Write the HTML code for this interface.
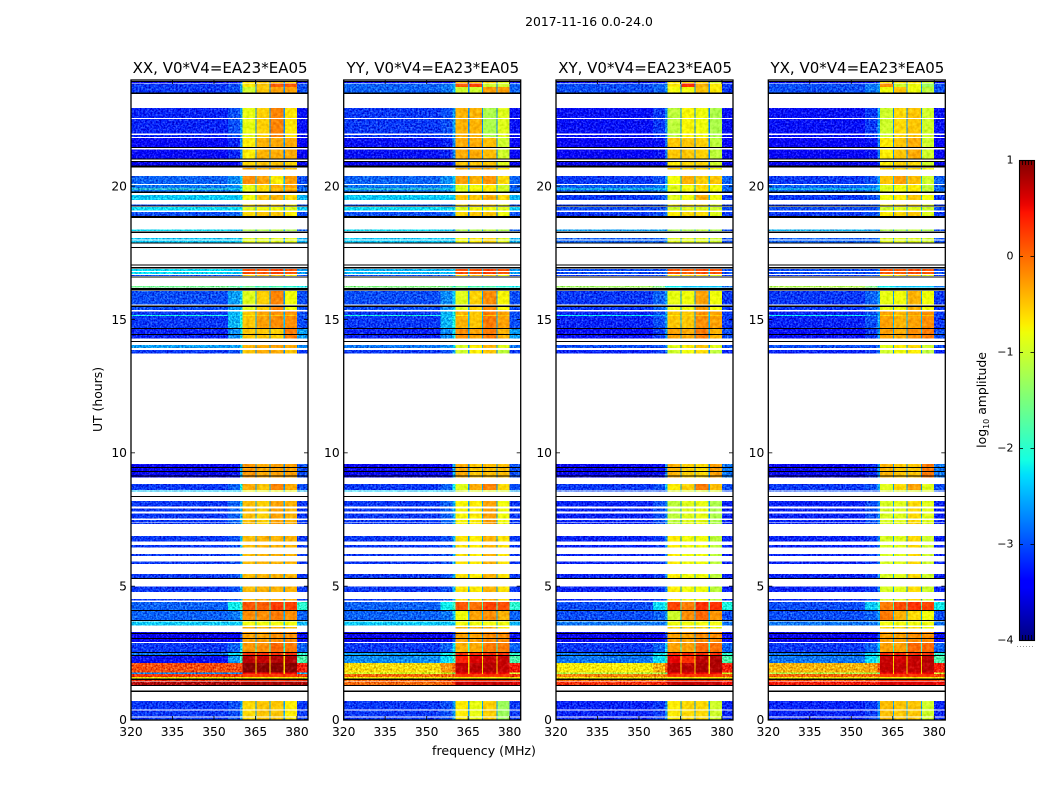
<!DOCTYPE html>
<html lang="en">
<head>
<meta charset="utf-8">
<title>2017-11-16 0.0-24.0</title>
<style>
html,body{margin:0;padding:0;background:#fff;width:1050px;height:800px;overflow:hidden}
svg{display:block}
text{font-family:"DejaVu Sans","Liberation Sans",sans-serif;fill:#000}
</style>
</head>
<body>
<svg id="figure" xmlns="http://www.w3.org/2000/svg" width="1050" height="800" viewBox="0 0 1050 800">
  <defs>
    <linearGradient id="jet-gradient" x1="0" y1="1" x2="0" y2="0"></linearGradient>
    <filter id="grain" x="0" y="0" width="100%" height="100%" color-interpolation-filters="sRGB">
      <feTurbulence type="fractalNoise" baseFrequency="0.55" numOctaves="2" seed="7" result="noise"/>
      <feColorMatrix in="noise" type="matrix" values="0 1 0 0 0  0 1 0 0 0  0 1 0 0 0  0 0 0 0 1" result="mono"/>
      <feComposite in="SourceGraphic" in2="mono" operator="arithmetic" k1="0" k2="1" k3="0.9" k4="-0.45" result="speckled"/>
      <feComposite in="speckled" in2="SourceAlpha" operator="in"/>
    </filter>
    <filter id="grain-soft" x="0" y="0" width="100%" height="100%" color-interpolation-filters="sRGB">
      <feTurbulence type="fractalNoise" baseFrequency="0.3" numOctaves="2" seed="11" result="noise"/>
      <feColorMatrix in="noise" type="matrix" values="0 1 0 0 0  0 1 0 0 0  0 1 0 0 0  0 0 0 0 1" result="mono"/>
      <feComposite in="SourceGraphic" in2="mono" operator="arithmetic" k1="0" k2="1" k3="0.3" k4="-0.15" result="speckled"/>
      <feComposite in="speckled" in2="SourceAlpha" operator="in"/>
    </filter>
  </defs>
  <text x="589" y="26" font-size="12.4" text-anchor="middle">2017-11-16 0.0-24.0</text>
  <text transform="translate(102,399.5) rotate(-90)" font-size="12.4" text-anchor="middle">UT (hours)</text>
  <text x="484" y="755" font-size="12.6" text-anchor="middle">frequency (MHz)</text>
  <g id="panels"></g>
  <g id="colorbar">
    <rect x="1019" y="160" width="15.5" height="480" fill="url(#jet-gradient)"/>
    <rect x="1019.5" y="160.5" width="15" height="480" fill="none" stroke="#000" stroke-width="1.1"/>
    <line x1="1017" x2="1035" y1="646.5" y2="646.5" stroke="#999" stroke-width="1" stroke-dasharray="1 2"/>
    <text transform="translate(986,400) rotate(-90)" font-size="12.4" text-anchor="middle">log<tspan font-size="8" dy="3">10</tspan><tspan dy="-3"> amplitude</tspan></text>
  </g>
</svg>
<script>
// Panel titles
const panelTitles = ["XX, V0*V4=EA23*EA05", "YY, V0*V4=EA23*EA05", "XY, V0*V4=EA23*EA05", "YX, V0*V4=EA23*EA05"];
// Axis ticks
const freqTicks = [320, 335, 350, 365, 380];
const utTicks = [0, 5, 10, 15, 20];
const colorTicks = [1, 0, -1, -2, -3, -4];
// Frequency bin edges in MHz: low, mid, transition, s1, notch, s2, notch, s3, notch, s4, edge
const freqEdges = [320, 355, 359.4, 360.4, 365, 365.4, 370, 370.4, 375.2, 375.6, 380, 384];
// Integration blocks: start UT, end UT, and index into the level tables
const rowEnd = [23.944,23.869,23.738,22.95,22.538,21.938,21.825,21.394,20.963,20.925,20.7,20.4,20.063,19.931,19.688,19.331,19.238,19.05,18.394,18.075,17.981,16.913,16.8,16.688,16.275,16.088,15.488,15.311,15.188,14.663,14.438,14.063,13.875,9.6,9.131,8.85,8.599,8.213,7.931,7.744,7.5,7.388,6.9,6.563,6.225,5.936,5.475,4.999,4.538,4.425,4.088,3.694,3.649,3.488,3.3,2.888,2.513,2.4,2.138,1.781,1.725,1.613,1.5,1.451,0.713,0.356,0.086];
const rowStart = [23.888,23.738,23.531,22.575,21.994,21.87,21.488,21.056,20.794,20.794,20.651,20.1,19.811,19.894,19.5,19.275,19.106,18.9,18.338,18.019,17.906,16.838,16.725,16.65,16.219,15.581,15.375,14.7,15.15,14.475,14.306,13.95,13.744,9.131,9.086,8.625,8.561,7.999,7.811,7.556,7.399,7.35,6.686,6.461,6.15,5.85,5.325,4.8,4.489,4.125,3.75,3.656,3.551,3.431,2.925,2.55,2.438,2.138,1.781,1.725,1.613,1.556,1.463,1.313,0.401,0.124,0];
const rowLevel = [4,0,1,2,2,2,3,3,4,4,5,6,7,8,9,11,10,11,12,13,13,14,14,11,15,16,16,17,18,19,19,20,21,22,22,23,24,25,25,25,25,25,26,26,26,26,26,26,26,27,28,29,29,5,30,31,32,33,34,35,36,37,36,38,39,39,39];
// Fully flagged (black) integrations
const flaggedStart = [23.925,23.475,21.45,21.011,20.925,20.726,19.763,19.256,18.825,18.263,17.861,17.7,17.04,16.939,16.594,16.106,15.495,14.663,14.438,14.175,9.45,9.3,9.139,8.363,5.288,4.088,3.713,3.225,3.038,2.513,2.4,1.5,1.275,1.05];
const flaggedEnd = [23.963,23.531,21.488,21.056,20.963,20.786,19.811,19.294,18.9,18.319,17.906,17.745,17.089,16.988,16.631,16.2,15.536,14.7,14.475,14.213,9.488,9.338,9.176,8.408,5.325,4.125,3.75,3.263,3.075,2.55,2.438,1.556,1.313,1.099];
// Notch level per level-set
const notchLevels = [-2.7,-2.7,-2.7,-2.7,-2.8,-2.6,-2.5,-2.5,-2.5,-2.5,-2.5,-2.8,-2.6,-2.6,-2.4,-2.3,-2.6,-2.5,-2.5,-2.6,-2.6,-2.7,-2.7,-2.6,-2.4,-2.6,-2.6,-1.8,-2.5,-2.4,-2.6,-2,-1,-0.6,-0.6,-0.6,0.25,-0.7,0.6,-2.6];
// log10 amplitude per level-set: low, mid, transition, s1, s2, s3, s4, edge
const levelsXX = [
[-3.1,-3,-2.6,-.7,-.5,.05,.05,-3],[-3.1,-3,-2.6,-1,-.5,-.3,-.3,-3],[-3.2,-3,-2.6,-.85,-.55,-.15,-.65,-3.3],[-3.35,-3.2,-2.7,-.7,-.4,-.35,-.35,-3.4],
[-3.5,-3.4,-3,-.6,-.5,-.5,-.6,-3.5],[null,null,null,-.4,-.4,-.4,-.5,null],[-2.9,-2.7,-2.4,-.2,-.3,-.7,-.3,-3],[-2.8,-2.7,-2.4,-.85,-.6,-.35,-.3,-2.9],
[-1.9,-2.1,-2.2,-.85,-.6,-.6,-.6,-2.8],[-2.4,-2.4,-2.4,-.8,-.5,-.4,-.6,-2.5],[-2.3,-2.3,-2.3,-.9,-.8,-.8,-.9,-2.4],[-3,-2.9,-2.7,-.6,-.5,-.5,-.7,-3],
[-2.3,-2.4,-2.6,-1.2,-1.2,-1.1,-1.2,-2.9],[-2.4,-2.4,-2.4,-.9,-.9,-.9,-.9,-2.5],[-2.3,-2.4,-2.4,.15,.1,.2,.1,-2.6],[-1.6,-1.7,-2,-1.6,-1.8,-1.8,-2,-2.2],
[-3,-2.6,-2.4,-.9,-.55,-.15,-.8,-3],[-3.1,-2.5,-2.1,-.5,-.3,-.2,-.2,-3],[-2.1,-2.4,-2.4,-.7,-.5,-.5,-.5,-3],[-3.2,-2.7,-2.3,-.5,-.5,-.55,-.1,-2.6],
[-2.6,-2.6,-2.3,-.4,-.35,-.3,-.35,-2.7],[-3.1,-3,-2.6,-.5,-.35,-.35,-.5,-3.1],[-3.5,-3.3,-2.5,-.25,-.35,-.3,-.3,-3],[-3.1,-2.9,-2.2,-.35,-.5,-.15,-.35,-3],
[-2.4,-2.4,-2.4,-.8,-.8,-.8,-.8,-2.5],[-3.1,-2.9,-2.5,-.45,-.55,-.3,-.4,-3.1],[-3.1,-3,-2.5,-.45,-.4,-.4,-.4,-3.1],[-2.9,-2.2,-1.9,.1,.05,.25,.2,-2],
[-2.9,-2.8,-2.4,-.2,-.2,-.1,-.2,-2.9],[-2.4,-2.4,-2.4,-.8,-.8,-.8,-.8,-2.5],[-3.5,-3.4,-3,-.3,-.3,-.2,-.2,-3.3],[-3.1,-2.9,-2.3,-.25,-.2,0,-.1,-2.9],
[-2.8,-2.3,-1.9,.3,.3,.3,.3,-2],[-3.3,-2.6,-1.9,.75,.7,.8,.8,-1.8],[.15,.15,.2,.95,.95,.95,.95,.4],[-2.7,-2.7,-2.7,.5,.5,.5,.5,-2.5],
[.25,.25,.25,.25,.25,.25,.25,.25],[-.7,-.7,-.7,-.7,-.7,-.7,-.7,-.7],[.8,.8,.8,.85,.85,.85,.85,.8],[-3.1,-3,-2.6,-.6,-.5,-.5,-.7,-3.1]];
const levelsYY = [
[-2.9,-2.8,-2.5,.1,.2,-1,-1,-2.9],[-2.9,-2.8,-2.5,-1,-1,-.3,-.3,-2.9],[-3.1,-3,-2.6,-.4,-.4,-1.2,-.9,-3.3],[-3.3,-3.2,-2.7,-.35,-.35,-.45,-1,-3.4],
[-3.5,-3.4,-3,-.5,-.5,-.5,-.9,-3.5],[null,null,null,-.4,-.4,-.4,-.7,null],[-2.9,-2.7,-2.4,-.3,-.4,-.25,-.6,-2.9],[-2.8,-2.7,-2.4,-.9,-.8,-.7,-1,-2.9],
[-1.9,-2.1,-2.2,-.9,-.7,-.7,-.9,-2.8],[-2.4,-2.4,-2.4,-.5,-.5,-.4,-.6,-2.5],[-2.3,-2.3,-2.3,-.9,-.8,-.8,-.9,-2.4],[-3,-2.9,-2.7,-.6,-.5,-.5,-.8,-3],
[-2.3,-2.4,-2.6,-1.2,-1.2,-1.1,-1.2,-2.9],[-2.4,-2.4,-2.4,-.8,-.7,-.6,-.9,-2.5],[-2.5,-2.5,-2.4,.15,.1,.2,.1,-2.6],[-1.5,-1.6,-2,-1.6,-1.8,-1.8,-2,-2.2],
[-3,-2.7,-2.4,-.9,-.55,-.2,-.75,-3],[-3.1,-2.5,-2.1,-.4,-.5,-.1,-.3,-3],[-2.1,-2.4,-2.4,-.7,-.5,-.5,-.5,-3],[-3.2,-2.7,-2.3,-.2,-.3,-.1,-.4,-2.6],
[-2.8,-2.7,-2.3,-.95,-.7,-.4,-.9,-2.8],[-3.1,-3,-2.6,-1,-.7,-.5,-1.1,-3.1],[-3.5,-3.3,-2.5,-.35,-.5,-.45,-.45,-3],[-3.1,-2.9,-2.2,-.9,-.35,-.15,-.6,-3],
[-2.4,-2.4,-2.4,-.9,-.9,-.9,-.9,-2.5],[-3.1,-2.9,-2.5,-.75,-.7,-.3,-.8,-3.1],[-3.1,-3,-2.5,-.65,-.7,-.4,-.65,-3.1],[-2.9,-2.2,-1.9,.1,-.05,.2,.15,-2],
[-2.9,-2.8,-2.4,-.8,-.3,-.2,-.4,-2.9],[-2.4,-2.4,-2.4,-.8,-.8,-.8,-.8,-2.5],[-3.5,-3.4,-3,-.3,-.3,-.2,-.2,-3.3],[-3.1,-2.9,-2.3,-.4,-.35,-.1,-.1,-2.9],
[-2.6,-2.2,-1.9,.3,.3,.3,.3,-2],[-2.7,-2.3,-1.9,.4,.6,.7,.7,-1.8],[-.6,-.25,0,.7,.75,.75,.7,.4],[-1,-1,-1.4,.5,.5,.5,.5,-1],
[0,.05,.1,.25,.25,.25,.25,.25],[-.7,-.7,-.7,-.7,-.7,-.7,-.7,-.7],[0,.1,.3,.7,.7,.7,.7,.6],[-3.1,-3,-2.6,-.7,-.85,-.55,-1.3,-3.1]];
const levelsXY = [
[-3,-2.9,-2.7,-.7,.3,-.4,-.7,-3.1],[-3,-2.9,-2.7,-.8,-.8,-.5,-.7,-3.1],[-3.3,-3.1,-2.7,-1.1,-.75,-.8,-1.2,-3.3],[-3.4,-3.3,-2.8,-.5,-.5,-.55,-1.1,-3.4],
[-3.5,-3.4,-3,-.7,-.6,-.6,-1,-3.5],[null,null,null,-.6,-.6,-.6,-.8,null],[-3.1,-3,-2.6,-.8,-.4,-.55,-.5,-2.9],[-2.9,-2.8,-2.5,-.9,-.8,-.6,-.8,-2.9],
[-2.1,-2.2,-2.3,-.9,-.7,-.7,-.8,-2.8],[-3.1,-3,-2.8,-.9,-.8,-.4,-.8,-3.1],[-3,-3,-2.8,-1,-.9,-.9,-1,-3],[-3.1,-3,-2.8,-.7,-.6,-.6,-.9,-3.1],
[-2.6,-2.6,-2.7,-1.2,-1.2,-1.1,-1.2,-3],[-2.9,-2.9,-2.7,-.9,-.9,-.9,-1,-3],[-3,-3,-2.8,.1,.05,.15,.1,-3],[-1.3,-1.5,-2.2,-2.2,-2.4,-2.4,-2.4,-2.8],
[-3.1,-2.9,-2.6,-.85,-.8,-.3,-.8,-3.1],[-3.2,-3,-2.6,-.5,-.5,-.2,-.3,-3.1],[-2.2,-2.5,-2.5,-.7,-.6,-.5,-.5,-3],[-3.3,-3.1,-2.6,-.3,-.35,-.1,-.4,-3],
[-3,-3,-2.7,-.9,-.7,-.5,-.9,-3],[-3.2,-3.1,-2.8,-1,-.8,-.6,-1.1,-3.2],[-3.5,-3.3,-2.7,-.4,-.55,-.6,-.3,-2.8],[-3.1,-3,-2.5,-.7,-.55,-.1,-.45,-3],
[-3,-3,-2.8,-.9,-.9,-.9,-.9,-3],[-3.2,-3,-2.7,-1.1,-.9,-.85,-1.2,-3.2],[-3.2,-3.1,-2.7,-.7,-.8,-.8,-1.1,-3.2],[-3,-2.3,-2,.2,-.1,.3,.3,-2.1],
[-3,-2.9,-2.6,-1,-.2,0,-.25,-3],[-2.8,-2.8,-2.6,-.8,-.8,-.8,-.8,-2.8],[-3.5,-3.4,-3,-.3,-.3,-.2,-.2,-3.3],[-3.1,-2.9,-2.4,-.3,-.3,0,-.05,-2.9],
[-2.8,-2.3,-2,.3,.3,.3,.3,-2],[-2.8,-2.3,-1.9,.55,.3,.75,.8,-1.8],[-.7,-.4,.1,.75,.75,.8,.8,.4],[-1.2,-1.2,-1.6,.5,.5,.5,.5,-1],
[-.15,-.1,0,.25,.25,.25,.25,.1],[-.7,-.7,-.7,-.7,-.7,-.7,-.7,-.7],[.3,.35,.4,.7,.7,.7,.7,.5],[-3.2,-3.1,-2.7,-.7,-.6,-.6,-1,-3.2]];
const levelsYX = [
[-3,-2.8,-2.6,-.2,-1,-.8,-1.3,-3],[-3,-2.8,-2.6,-.8,-.5,-.8,-1.1,-3],[-3.3,-3.1,-2.6,-1,-.6,-.5,-1,-3.3],[-3.4,-3.3,-2.8,-.7,-.5,-.35,-1,-3.4],
[-3.5,-3.4,-3,-.7,-.6,-.6,-1,-3.5],[null,null,null,-.6,-.6,-.6,-.8,null],[-3.1,-3,-2.6,-.5,-.3,-.45,-1,-2.9],[-2.9,-2.8,-2.5,-.9,-.8,-.7,-1.1,-2.9],
[-2.1,-2.2,-2.3,-.9,-.8,-.7,-1,-2.8],[-3.1,-3,-2.8,-.8,-.7,-.5,-.8,-3.1],[-3,-3,-2.8,-1,-.9,-.9,-1,-3],[-3.1,-3,-2.8,-.7,-.6,-.5,-.9,-3.1],
[-2.5,-2.6,-2.7,-1.2,-1.2,-1.1,-1.2,-3],[-2.9,-2.9,-2.7,-.9,-.9,-.9,-1,-3],[-3,-3,-2.8,.1,.05,.15,.1,-3],[-1.2,-1.5,-2.2,-2.2,-2.4,-2.4,-2.4,-2.8],
[-3.1,-2.9,-2.6,-.85,-.8,-.4,-.8,-3.1],[-3.2,-3,-2.6,-.3,-.4,-.3,-.2,-3.1],[-2.2,-2.5,-2.5,-.6,-.6,-.5,-.5,-3],[-3.3,-3.1,-2.6,-.3,-.35,-.2,-.1,-3],
[-3,-3,-2.7,-.9,-.7,-.6,-1,-3],[-3.2,-3.1,-2.8,-1,-.8,-.7,-1.1,-3.2],[-3.5,-3.2,-2.6,-.4,-.5,-.5,-.1,-2.8],[-3.1,-3,-2.5,-.9,-.6,-.3,-.9,-3],
[-3,-3,-2.8,-.9,-.9,-.9,-.9,-3],[-3.2,-3,-2.7,-.95,-.9,-.6,-.9,-3.2],[-3.2,-3.1,-2.7,-.95,-.9,-.6,-1,-3.2],[-3,-2.4,-2,-.1,.15,.3,.2,-2.2],
[-3,-2.9,-2.6,-.1,-.4,-.6,-.8,-3],[-2.8,-2.8,-2.6,-.8,-.8,-.8,-.8,-2.8],[-3.5,-3.4,-3,-.3,-.3,-.2,-.2,-3.3],[-3.1,-2.9,-2.4,-.3,-.3,0,0,-2.9],
[-2.8,-2.3,-2,.3,.3,.3,.3,-2],[-2.8,-2.3,-1.9,.7,.65,.7,.75,-1.8],[-.4,-.3,.1,.7,.7,.7,.75,.4],[-1.2,-1.2,-1.6,.5,.5,.5,.5,-1],
[0,.05,.1,.25,.25,.25,.25,.2],[-.7,-.7,-.7,-.7,-.7,-.7,-.7,-.7],[.4,.4,.45,.6,.6,.6,.6,.5],[-3.2,-3.1,-2.7,-.45,-.5,-.5,-1,-3.2]];
const panelLevels = [levelsXX, levelsYY, levelsXY, levelsYX];

const SVG_NS = "http://www.w3.org/2000/svg";
const AXES_TOP = 80, AXES_HEIGHT = 640, AXES_WIDTH = 177;
const AXES_LEFTS = [131, 343.7, 556, 768.3];
const FREQ_MIN = 320, FREQ_MAX = 384, UT_MAX = 24, COLOR_MIN = -4, COLOR_MAX = 1;
const CB_TOP = 160, CB_HEIGHT = 480;
function xScale(mhz, left) { return left + (mhz - FREQ_MIN) / (FREQ_MAX - FREQ_MIN) * AXES_WIDTH; }
function yScale(ut) { return AXES_TOP + (UT_MAX - ut) / UT_MAX * AXES_HEIGHT; }
function cbScale(v) { return CB_TOP + (COLOR_MAX - v) / (COLOR_MAX - COLOR_MIN) * CB_HEIGHT; }
function ramp(knots, t) {
  for (let i = 1; i < knots.length; i++) {
    if (t <= knots[i][0]) {
      const a = knots[i - 1], b = knots[i];
      return a[1] + (b[1] - a[1]) * (t - a[0]) / (b[0] - a[0]);
    }
  }
  return knots[knots.length - 1][1];
}
const jetRed = [[0,0],[.35,0],[.66,1],[.89,1],[1,.5]];
const jetGreen = [[0,0],[.125,0],[.375,1],[.64,1],[.91,0],[1,0]];
const jetBlue = [[0,.5],[.11,1],[.34,1],[.65,0],[1,0]];
function jetAt(t) {
  t = Math.max(0, Math.min(1, t));
  return "rgb(" + Math.round(ramp(jetRed, t) * 255) + "," + Math.round(ramp(jetGreen, t) * 255) + "," + Math.round(ramp(jetBlue, t) * 255) + ")";
}
function jet(v) { return jetAt((v - COLOR_MIN) / (COLOR_MAX - COLOR_MIN)); }

function makeRect(parent, x, y, w, h, fill) {
  const r = document.createElementNS(SVG_NS, "rect");
  r.setAttribute("x", x.toFixed(2));
  r.setAttribute("y", y.toFixed(2));
  r.setAttribute("width", w.toFixed(2));
  r.setAttribute("height", h.toFixed(2));
  r.setAttribute("fill", fill);
  parent.appendChild(r);
  return r;
}
function makeLine(parent, x1, y1, x2, y2, width) {
  const l = document.createElementNS(SVG_NS, "line");
  l.setAttribute("x1", x1);
  l.setAttribute("y1", y1);
  l.setAttribute("x2", x2);
  l.setAttribute("y2", y2);
  l.setAttribute("stroke", "#000");
  l.setAttribute("stroke-width", width);
  parent.appendChild(l);
  return l;
}
function makeText(parent, x, y, size, anchor, content) {
  const t = document.createElementNS(SVG_NS, "text");
  t.setAttribute("x", x);
  t.setAttribute("y", y);
  t.setAttribute("font-size", size);
  t.setAttribute("text-anchor", anchor);
  t.textContent = content;
  parent.appendChild(t);
  return t;
}
// Map an 8-value level entry and its notch to the 11 frequency bins
function binValues(lv, notch) {
  return [lv[0], lv[1], lv[2], lv[3], notch, lv[4], notch, lv[5], notch, lv[6], lv[7]];
}

const panelsGroup = document.getElementById("panels");
panelTitles.forEach(function (title, p) {
  const left = AXES_LEFTS[p];
  const right = left + AXES_WIDTH;
  const g = document.createElementNS(SVG_NS, "g");
  
  
  panelsGroup.appendChild(g);

  const cellsQuiet = document.createElementNS(SVG_NS, "g");
  cellsQuiet.setAttribute("shape-rendering", "crispEdges");
  cellsQuiet.setAttribute("filter", "url(#grain)");
  
  
  g.appendChild(cellsQuiet);

  const cellsBand = document.createElementNS(SVG_NS, "g");
  cellsBand.setAttribute("shape-rendering", "crispEdges");
  cellsBand.setAttribute("filter", "url(#grain-soft)");
  
  
  g.appendChild(cellsBand);

  rowStart.forEach(function (start, r) {
    const lv = panelLevels[p][rowLevel[r]];
    const vals = binValues(lv, notchLevels[rowLevel[r]]);
    const yTop = yScale(rowEnd[r]);
    const h = yScale(start) - yTop;
    vals.forEach(function (v, b) {
      if (v === null) return;
      const x0 = xScale(freqEdges[b], left);
      const x1 = xScale(freqEdges[b + 1], left);
      const holder = (b < 3 || b === 10) ? cellsQuiet : cellsBand;
      const cell = makeRect(holder, x0, yTop, x1 - x0, h, jet(v));
      
      
    });
  });

  const flagged = document.createElementNS(SVG_NS, "g");
  flagged.setAttribute("shape-rendering", "crispEdges");
  
  
  g.appendChild(flagged);
  flaggedStart.forEach(function (start, r) {
    const yTop = yScale(flaggedEnd[r]);
    const band = makeRect(flagged, left, yTop, AXES_WIDTH, yScale(start) - yTop, "#000");
    
    
  });

  const frame = makeRect(g, left, AXES_TOP, AXES_WIDTH, AXES_HEIGHT, "none");
  frame.setAttribute("stroke", "#000");
  frame.setAttribute("stroke-width", "1.3");
  
  

  const pt = makeText(g, left + AXES_WIDTH / 2 + 0.6, 73, 15, "middle", title);
  
  

  freqTicks.forEach(function (f) {
    const x = xScale(f, left);
    const t1 = makeLine(g, x, AXES_TOP, x, AXES_TOP + 4, 0.8);
    
    
    const t2 = makeLine(g, x, AXES_TOP + AXES_HEIGHT, x, AXES_TOP + AXES_HEIGHT - 4, 0.8);
    
    
    const lab = makeText(g, x, 736, 12.3, "middle", String(f));
    
    
  });
  utTicks.forEach(function (u) {
    const y = yScale(u) - 0.5;
    const t1 = makeLine(g, left, y, left + 4, y, 0.8);
    
    
    const t2 = makeLine(g, right, y, right - 4, y, 0.8);
    
    
    const lab = makeText(g, left - 4, y + 4.3, 12.3, "end", String(u));
    
    
  });
});

// Colour bar gradient and ticks
const gradient = document.getElementById("jet-gradient");
for (let i = 0; i <= 64; i++) {
  const stop = document.createElementNS(SVG_NS, "stop");
  stop.setAttribute("offset", (i / 64).toFixed(4));
  stop.setAttribute("stop-color", jetAt(i / 64));
  gradient.appendChild(stop);
}
const cb = document.getElementById("colorbar");
colorTicks.forEach(function (v) {
  const y = cbScale(v) + 0.5;
  if (v !== 1 && v !== -4) {
    const a = makeLine(cb, 1019, y, 1023, y, 0.8);
    
    
    const b = makeLine(cb, 1034.5, y, 1030.5, y, 0.8);
    
    
  }
  const label = v < 0 ? "\u2212" + Math.abs(v) : String(v);
  const t = makeText(cb, 1013.5, y + 3, 11, "end", label);
  
  
});
[0.2, 0.4, 0.6, 0.8].forEach(function (fraction) {
  const x = 1019.5 + 15 * fraction;
  const a = makeLine(cb, x, CB_TOP, x, CB_TOP + 5, 0.8);
  
  
  const b = makeLine(cb, x, CB_TOP + CB_HEIGHT, x, CB_TOP + CB_HEIGHT - 5, 0.8);
  
  
});
</script>
</body>
</html>
